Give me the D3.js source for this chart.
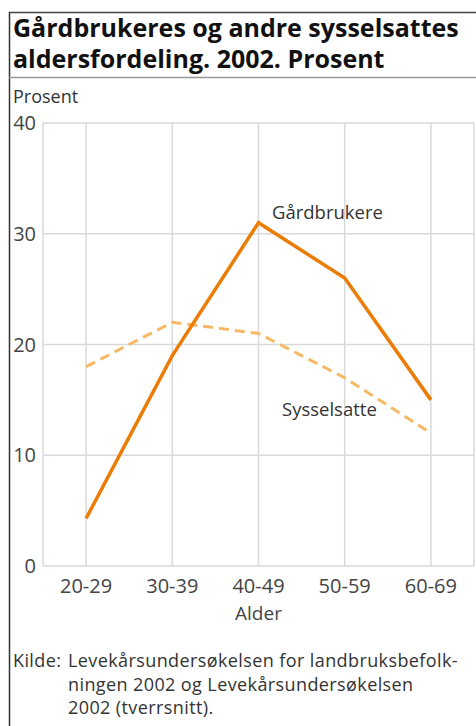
<!DOCTYPE html>
<html>
<head>
<meta charset="utf-8">
<script src="https://cdn.jsdelivr.net/npm/d3@7"></script>
<style>
  body { margin: 0; background: #fff; }
  text { font-family: "Open Sans", "DejaVu Sans", sans-serif; }
</style>
</head>
<body>
<div id="chart-area"></div>
<script>
// data
var ageGroups = ["20-29", "30-39", "40-49", "50-59", "60-69"];
var gardbrukere = [4.3, 19, 31, 26, 15];
var sysselsatte = [18, 22, 21, 17, 12];
var yTicks = [0, 10, 20, 30, 40];
var titleLines = ["Gårdbrukeres og andre sysselsattes", "aldersfordeling. 2002. Prosent"];
var sourceLines = ["Levekårsundersøkelsen for landbruksbefolk-", "ningen 2002 og Levekårsundersøkelsen", "2002 (tverrsnitt)."];

var W = 476, H = 726;
var svg = d3.select("#chart-area")
  .append("svg")
    .attr("width", W)
    .attr("height", H);

// frame
svg.append("line").attr("x1", 9).attr("x2", W).attr("y1", 12.5).attr("y2", 12.5)
  .attr("stroke", "#444").attr("stroke-width", 1.5);
svg.append("line").attr("x1", 9.5).attr("x2", 9.5).attr("y1", 12).attr("y2", H)
  .attr("stroke", "#333").attr("stroke-width", 1.5);
svg.append("line").attr("x1", 9).attr("x2", W).attr("y1", 77.5).attr("y2", 77.5)
  .attr("stroke", "#999").attr("stroke-width", 1.5);

// title
svg.append("g").selectAll("text")
  .data(titleLines)
  .enter().append("text")
    .attr("x", 13)
    .attr("y", function(d, i) { return 37 + i * 31; })
    .style("font-size", "25px")
    .style("font-weight", "bold")
    .style("fill", "#111")
    .text(function(d) { return d; });

var margin = {left: 43, right: 2};

var x = d3.scalePoint()
  .domain(ageGroups)
  .range([margin.left, W - margin.right])
  .padding(0.5);

var y = d3.scaleLinear()
  .domain([0, 40])
  .range([566, 123]);

// grid
var grid = svg.append("g").attr("stroke", "#d9d9d9").attr("stroke-width", 1.5);
grid.selectAll(".h").data(yTicks).enter().append("line")
  .attr("x1", margin.left).attr("x2", W - margin.right)
  .attr("y1", function(d) { return y(d); }).attr("y2", function(d) { return y(d); });
grid.selectAll(".v").data(ageGroups).enter().append("line")
  .attr("x1", function(d) { return x(d); }).attr("x2", function(d) { return x(d); })
  .attr("y1", y(40)).attr("y2", y(0));
grid.append("line").attr("x1", margin.left).attr("x2", margin.left).attr("y1", y(40)).attr("y2", y(0));
grid.append("line").attr("x1", W - margin.right).attr("x2", W - margin.right).attr("y1", y(40)).attr("y2", y(0));

// y axis labels
svg.append("g").selectAll("text")
  .data(yTicks)
  .enter().append("text")
    .attr("x", 36)
    .attr("y", function(d) { return y(d) + 7; })
    .attr("text-anchor", "end")
    .style("font-size", "20px")
    .style("fill", "#444")
    .text(function(d) { return d; });

svg.append("text")
  .attr("x", 13).attr("y", 103)
  .style("font-size", "18px").style("fill", "#333")
  .text("Prosent");

// x axis labels
svg.append("g").selectAll("text")
  .data(ageGroups)
  .enter().append("text")
    .attr("x", function(d) { return x(d); })
    .attr("y", 593)
    .attr("text-anchor", "middle")
    .style("font-size", "20px")
    .style("fill", "#444")
    .text(function(d) { return d; });

svg.append("text")
  .attr("x", x("40-49")).attr("y", 620)
  .attr("text-anchor", "middle")
  .style("font-size", "19px").style("fill", "#444")
  .text("Alder");

// lines
var line = d3.line()
  .x(function(d, i) { return x(ageGroups[i]); })
  .y(function(d) { return y(d); });

svg.append("path")
  .datum(sysselsatte)
  .attr("d", line)
  .attr("fill", "none")
  .attr("stroke", "#f7b866")
  .attr("stroke-width", 3)
  .attr("stroke-dasharray", "10,6");

svg.append("path")
  .datum(gardbrukere)
  .attr("d", line)
  .attr("fill", "none")
  .attr("stroke", "#eb7c05")
  .attr("stroke-width", 3.5);

// series labels
svg.append("text")
  .attr("x", 272).attr("y", 219)
  .style("font-size", "18.5px").style("fill", "#333")
  .text("Gårdbrukere");
svg.append("text")
  .attr("x", 282).attr("y", 416)
  .style("font-size", "18.5px").style("fill", "#333")
  .text("Sysselsatte");

// source
svg.append("text")
  .attr("x", 13).attr("y", 667)
  .style("font-size", "18px").style("fill", "#333")
  .style("letter-spacing", "0.4px")
  .text("Kilde:");
svg.append("g").selectAll("text")
  .data(sourceLines)
  .enter().append("text")
    .attr("x", 68)
    .attr("y", function(d, i) { return 667 + i * 23.5; })
    .style("font-size", "18px")
    .style("letter-spacing", "0.4px")
    .style("fill", "#333")
    .text(function(d) { return d; });
</script>
</body>
</html>
